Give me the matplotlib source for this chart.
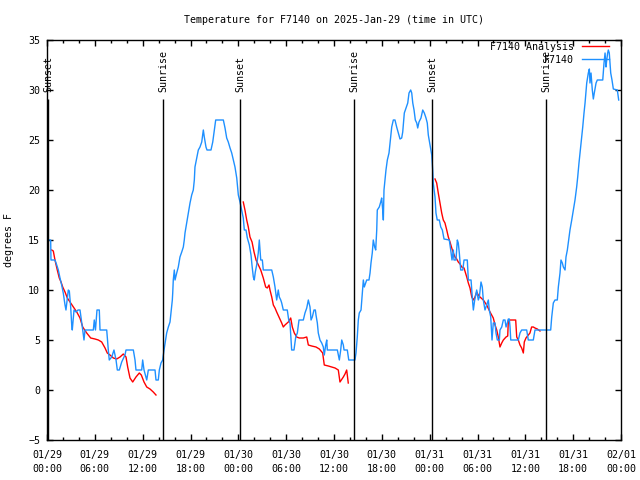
#!/usr/bin/env python3
"""Temperature chart for F7140: observations vs analysis with sunrise/sunset markers."""

import matplotlib
matplotlib.use("Agg")
import matplotlib.dates as mdates
import matplotlib.pyplot as plt
import numpy as np
import pandas as pd

START = pd.Timestamp("2025-01-29 00:00")
END = pd.Timestamp("2025-02-01 00:00")

# observations: hours since 01/29 00:00 UTC, degrees F
obs_hours = [
    0.0, 0.46, 0.5, 1.0, 1.22, 1.42, 1.63, 1.84, 2.04, 2.26, 2.38, 2.67, 2.8, 2.97, 3.1,
    3.17, 3.39, 3.64, 3.89, 4.14, 4.35, 4.48, 4.64, 4.77, 5.81, 5.93, 6.08, 6.27, 6.56,
    6.65, 7.49, 7.69, 7.81, 8.12, 8.4, 8.66, 8.82, 9.07, 9.37, 9.78, 9.91, 10.83, 11.04,
    11.16, 11.88, 12.0, 12.17, 12.51, 12.71, 13.55, 13.67, 13.96, 14.09, 14.3, 14.51,
    14.68, 15.01, 15.22, 15.43, 15.72, 15.77, 15.84, 15.97, 16.06, 16.27, 16.47, 16.68,
    16.9, 17.1, 17.22, 17.31, 17.52, 17.72, 17.94, 18.15, 18.35, 18.48, 18.56, 18.78,
    18.98, 19.19, 19.41, 19.61, 19.73, 19.94, 20.07, 20.57, 20.79, 20.99, 21.16, 22.12,
    22.33, 22.54, 22.74, 22.96, 23.17, 23.37, 23.58, 23.8, 23.95, 24.0, 24.21, 24.42,
    24.62, 24.75, 24.96, 25.13, 25.38, 25.59, 25.71, 25.88, 26.0, 26.13, 26.3, 26.5,
    26.63, 26.81, 27.01, 27.13, 28.19, 28.39, 28.6, 28.81, 29.01, 29.14, 29.32, 29.44,
    29.64, 30.14, 30.32, 30.48, 30.69, 30.98, 31.2, 31.4, 31.61, 32.15, 32.36, 32.58,
    32.78, 32.99, 33.12, 33.28, 33.49, 33.66, 33.74, 33.91, 34.03, 34.24, 34.46, 34.66,
    34.78, 34.96, 35.09, 35.16, 36.42, 36.67, 36.84, 36.97, 37.17, 37.26, 37.67, 37.85,
    38.63, 38.76, 38.92, 39.05, 39.17, 39.39, 39.47, 39.6, 39.68, 39.8, 40.1, 40.39,
    40.52, 40.64, 40.8, 40.93, 41.1, 41.23, 41.36, 41.43, 41.68, 41.86, 41.98, 42.11,
    42.19, 42.27, 42.4, 42.52, 42.69, 42.9, 43.03, 43.24, 43.44, 43.65, 43.86, 44.07,
    44.28, 44.49, 44.62, 44.82, 45.03, 45.25, 45.41, 45.62, 45.75, 45.88, 46.04, 46.2,
    46.38, 46.5, 46.66, 46.91, 47.13, 47.33, 47.54, 47.7, 47.83, 48.04, 48.26, 48.38,
    48.45, 48.67, 48.79, 48.95, 49.21, 49.39, 49.59, 49.8, 50.46, 50.64, 50.8, 50.97,
    51.05, 51.3, 51.47, 51.59, 51.72, 51.89, 52.15, 52.31, 52.72, 52.85, 53.19, 53.4,
    53.48, 53.65, 53.9, 54.1, 54.23, 54.44, 54.6, 54.73, 54.94, 55.15, 55.36, 55.48,
    55.66, 55.82, 55.98, 56.2, 56.32, 56.49, 56.74, 56.82, 57.04, 57.24, 57.45, 57.58,
    57.74, 57.87, 57.99, 58.08, 58.17, 59.12, 59.33, 59.54, 60.17, 60.37, 61.0, 61.21,
    62.59, 63.18, 63.31, 63.51, 63.72, 64.01, 64.14, 64.35, 64.47, 64.64, 64.77, 64.98,
    65.1, 65.27, 65.44, 65.6, 65.82, 66.02, 66.23, 66.44, 66.57, 66.73, 66.86, 67.07,
    67.2, 67.36, 67.49, 67.7, 67.9, 68.03, 68.11, 68.24, 68.4, 68.53, 68.65, 68.87,
    69.03, 69.71, 69.87, 70.0, 70.12, 70.21, 70.33, 70.41, 70.53, 70.71, 70.87, 71.04,
    71.54, 71.71,
]
obs_temp = [
    15, 15, 13, 13, 12.5, 12, 11.2, 10.5, 9.7, 8.5, 8, 10, 9.9, 8.3, 6.5,
    6, 8, 7.8, 8, 8, 6.8, 6, 5, 6, 6, 7, 6, 8, 8,
    6, 6, 4, 3, 3.3, 4, 3, 2, 2, 2.8, 3.5, 4, 4, 3,
    2, 2, 3, 2, 1, 2, 2, 1, 1, 2, 2.7, 3,
    4, 5.7, 6.3, 6.8, 9, 9.7, 11, 12, 11, 11.7, 12.3, 13.3,
    13.8, 14.3, 15, 15.7, 16.7, 17.7, 18.7, 19.5, 20, 21, 22.3, 23.2,
    24, 24.3, 24.8, 26, 25.3, 24.3, 24, 24, 24.8, 26, 27, 27,
    26.2, 25.2, 24.8, 24.2, 23.7, 23, 22.3, 21.2, 20, 19.5, 18.8, 18,
    17.2, 16, 16, 15.2, 14.5, 13.5, 12.5, 11.3, 11, 11.8, 12.5, 13.7,
    15, 13, 13, 12, 12, 11.3, 10.3, 9, 10, 9.3, 9, 8.7,
    8, 8, 7, 6.7, 4, 4, 5.3, 5.7, 7, 7, 7.7, 8.2,
    9, 8.3, 7, 7.3, 8, 8, 7.5, 6.7, 5.7, 5, 4.7, 4.3,
    3.5, 4.5, 5, 4, 4, 3, 4, 5, 4.5, 4, 4, 3,
    3, 3.7, 5.3, 7, 7.7, 8, 8.8, 10, 11, 10.3, 11, 11,
    11.7, 12.7, 13.7, 15, 14.3, 14, 16, 18, 18.3, 18.8, 19.2, 18,
    17, 20, 21, 22, 23, 23.7, 24.7, 26.3, 27, 27, 26.3, 25.7,
    25.1, 25.2, 25.8, 27.7, 28.2, 28.7, 29.7, 30, 29.7, 28.7, 28, 27,
    26.7, 26.2, 26.8, 27.2, 28, 27.7, 27.2, 26.7, 25.5, 24.5, 23.5, 22,
    20.7, 19.3, 17.7, 17, 17, 16.3, 16, 15.1, 15, 14, 13, 14,
    13, 13, 15, 14.7, 13.7, 12, 12, 13, 13, 11, 11, 8.7,
    8, 9, 10, 9, 9.3, 10.8, 10.3, 9, 8, 8.5, 9, 8,
    7.3, 5, 6.7, 6.7, 5.7, 5, 5, 6, 6.3, 7, 7, 6.3,
    6.7, 7.1, 7.1, 6.3, 5, 5, 5.7, 6, 6, 5, 5, 6,
    6, 6, 7.3, 8.7, 9, 9, 10.3, 11.7, 13, 12.7, 12.3, 12,
    13.3, 14, 15, 16, 17, 18, 19, 20.3, 21.3, 22.7, 23.7, 25.3,
    26.3, 27.7, 28.7, 30.7, 31.7, 32.1, 30.7, 31.7, 30, 29.1, 29.7, 30.7,
    31, 31, 32.7, 33.7, 32.3, 33, 33.7, 34, 33.7, 31.7, 31, 30.1,
    30, 29,
]

# analysis: three overnight runs, NaN breaks the line between them
ana_hours = [
    0.59, 0.79, 1.0, 1.29, 1.54, 1.76, 1.97, 2.26, 2.55, 2.89, 3.3, 3.73, 4.14, 4.48,
    4.98, 5.48, 6.02, 6.44, 6.86, 7.28, 7.56, 7.9, 8.32, 8.74, 9.16, 9.57, 9.91, 10.12,
    10.41, 10.75, 11.16, 11.58, 11.83, 12.17, 12.51, 12.92, 13.33, 13.67,
    np.nan,
    24.62, 24.83, 25.05, 25.25, 25.46, 25.72, 25.97, 26.22, 26.51, 26.81, 27.13, 27.43,
    27.63, 27.85, 27.97, 28.19, 28.39, 28.6, 28.81, 29.1, 29.44, 29.64, 29.85, 30.27,
    30.57, 30.77, 31.02, 31.32, 31.65, 32.15, 32.58, 32.78, 33.2, 33.74, 34.16, 34.58,
    34.78, 35.29, 35.71, 36.13, 36.54, 36.75, 37.17, 37.38, 37.59, 37.79,
    np.nan,
    48.67, 48.88, 49.08, 49.3, 49.51, 49.71, 49.92, 50.14, 50.34, 50.55, 50.77, 50.97,
    51.18, 51.39, 51.59, 51.81, 52.02, 52.31, 52.65, 52.85, 53.06, 53.28, 53.48, 53.69,
    53.9, 54.1, 54.31, 54.73, 55.15, 55.57, 55.78, 55.98, 56.2, 56.41, 56.61, 56.82,
    57.04, 57.24, 57.58, 57.79, 57.87, 58.79, 58.92, 59.12, 59.33, 59.54, 59.75, 59.87,
    60.08, 60.37, 60.58, 60.79, 61.0, 61.21, 61.5, 61.84,
]
ana_temp = [
    14, 13.9, 13, 12, 11.2, 10.8, 10.3, 9.8, 9.2, 8.8, 8.3, 7.8, 7.2, 6.3,
    5.7, 5.2, 5.1, 5, 4.8, 4.2, 3.7, 3.5, 3.2, 3.1, 3.3, 3.6, 3.3, 2.3,
    1.2, 0.8, 1.3, 1.7, 1.5, 0.8, 0.3, 0.1, -0.2, -0.5,
    np.nan,
    18.8, 18, 17, 16.3, 15.3, 14.8, 13.8, 13, 12.5, 12, 11.2, 10.3,
    10.2, 10.5, 10, 9.3, 8.5, 8.2, 7.8, 7.3, 6.7, 6.3, 6.5, 6.8,
    7.2, 6.3, 5.7, 5.3, 5.2, 5.2, 5.3, 4.5, 4.4, 4.3, 4.1, 3.7,
    2.5, 2.4, 2.3, 2.2, 2, 0.8, 1.3, 1.6, 2, 0.7,
    np.nan,
    21.1, 20.7, 19.7, 18.7, 17.7, 17, 16.7, 16, 15.3, 14.8, 14.2, 13.7,
    13.3, 13.1, 12.8, 12.6, 12.3, 12.2, 11.3, 10.7, 10.2, 9.3, 9, 9.3,
    9.8, 9.5, 9.3, 9, 8.5, 7.8, 7.5, 7.2, 6.5, 6, 5.3, 4.3,
    4.7, 5, 5.3, 5.4, 7, 7, 5.3, 5, 4.5, 4.2, 3.7, 4.8,
    5.2, 5.5, 5.7, 6.3, 6.3, 6.2, 6.1, 5.9,
]

event_times = [
    "2025-01-29 00:10", "2025-01-29 14:35",
    "2025-01-30 00:16", "2025-01-30 14:34",
    "2025-01-31 00:19", "2025-01-31 14:36",
]
event_labels = ["Sunset", "Sunrise", "Sunset", "Sunrise", "Sunset", "Sunrise"]

FONT = "DejaVu Sans Mono"
FS = 7.2


def main() -> None:
    plt.rcParams["font.family"] = FONT
    plt.rcParams["font.size"] = FS

    obs_t = START + pd.to_timedelta(obs_hours, unit="h")
    ana_t = START + pd.to_timedelta(ana_hours, unit="h")
    ev_t = pd.to_datetime(event_times)

    fig = plt.figure(figsize=(6.4, 4.8), dpi=100)
    ax = fig.add_axes([47 / 640, 40 / 480, 574 / 640, 400 / 480])

    ax.plot(ana_t, ana_temp, color="#ff0000", lw=1.0, label="F7140 Analysis")
    ax.plot(obs_t, obs_temp, color="#1e90ff", lw=1.0, label="F7140")

    ax.vlines(ev_t, -5, 29.1, color="black", lw=1.0)
    for t, lab in zip(ev_t, event_labels):
        ax.text(t, 29.8, lab, rotation=90, ha="center", va="bottom", fontsize=FS)

    ax.set_xlim(START, END)
    ax.set_ylim(-5, 35)
    ax.set_yticks(np.arange(-5, 36, 5))
    ax.xaxis.set_major_locator(mdates.HourLocator(byhour=[0, 6, 12, 18]))
    ax.xaxis.set_minor_locator(mdates.HourLocator(byhour=range(0, 24, 2)))
    ax.xaxis.set_major_formatter(mdates.DateFormatter("%m/%d\n%H:%M"))
    for lab in ax.get_xticklabels():
        lab.set_linespacing(1.5)

    ax.tick_params(which="both", direction="in", top=True, right=True, width=1.0, colors="black")
    ax.tick_params(which="major", length=4)
    ax.tick_params(which="minor", length=2.2)
    ax.tick_params(axis="x", which="major", pad=7)
    ax.tick_params(axis="y", which="major", pad=5)
    for sp in ax.spines.values():
        sp.set_linewidth(1.0)

    ax.set_ylabel("degrees F")
    ax.yaxis.set_label_coords(-33 / 574, 0.5)
    ax.set_title("Temperature for F7140 on 2025-Jan-29 (time in UTC)", pad=12, fontsize=FS)

    ax.legend(loc="upper right", bbox_to_anchor=(562 / 574, 0.995), frameon=False,
              markerfirst=False, borderaxespad=0, borderpad=0, handlelength=2.7,
              handletextpad=0.8, labelspacing=0.3, fontsize=FS)

    fig.savefig("out.png", dpi=100)
    plt.close(fig)


if __name__ == "__main__":
    main()
